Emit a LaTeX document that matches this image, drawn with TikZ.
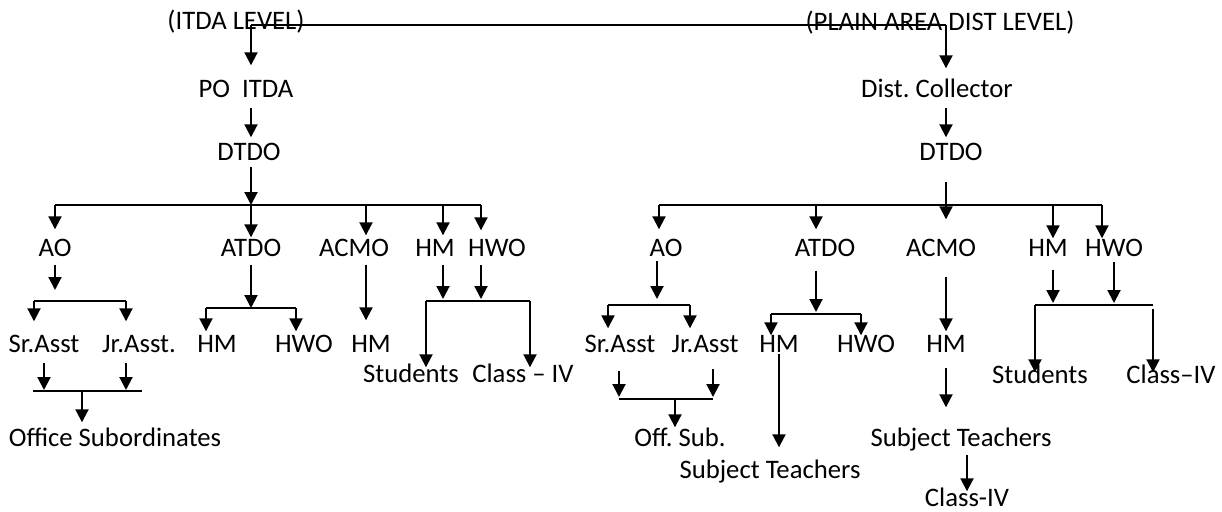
\documentclass[tikz,border=0pt]{standalone}
\usepackage{fontspec}
\setmainfont{Carlito}
\usetikzlibrary{arrows.meta}
\newcommand\orgfont{\fontsize{26.7}{32}\selectfont\frenchspacing}

\begin{document}
\begin{tikzpicture}[x=1pt,y=-1pt,
    lbl/.style={inner sep=0pt,text height=17pt,text depth=0pt,font=\orgfont},
    ln/.style={line width=2pt},
    arr/.style={line width=2pt,-{Triangle[length=13pt,width=13pt]}}]
  \useasboundingbox (0,0) rectangle (1222,511);
  % headings
  \path[every node/.style=lbl]
    (236,21) node (itda) {(ITDA LEVEL)}
    (940,22) node (plain) {(PLAIN AREA DIST LEVEL)}
    (246,89) node (po) {PO~~ITDA}
    (937,89) node (coll) {Dist. Collector}
    (249,152) node (dtdoL) {DTDO}
    (951,152) node (dtdoR) {DTDO};
  % itda side
  \path[every node/.style=lbl]
    (55,248) node (aoL) {AO}
    (251,248) node (atdoL) {ATDO}
    (354,248) node (acmoL) {ACMO}
    (435,248) node (hmL) {HM}
    (497,248) node (hwoL) {HWO}
    (44,344) node (srL) {Sr.Asst}
    (139,344) node (jrL) {Jr.Asst.}
    (217,344) node (hmL1) {HM}
    (304,344) node (hwoL1) {HWO}
    (371,344) node (hmL2) {HM}
    (411,374) node (stuL) {Students}
    (523,374) node (clsL) {Class – IV}
    (115,438) node (offL) {Office Subordinates};
  % plain area side
  \path[every node/.style=lbl]
    (666,248) node (aoR) {AO}
    (825,248) node (atdoR) {ATDO}
    (941,248) node (acmoR) {ACMO}
    (1048,248) node (hmR) {HM}
    (1114,248) node (hwoR) {HWO}
    (620,344) node (srR) {Sr.Asst}
    (705,344) node (jrR) {Jr.Asst}
    (779,344) node (hmR1) {HM}
    (866,344) node (hwoR1) {HWO}
    (946,344) node (hmR2) {HM}
    (1040,375) node (stuR) {Students}
    (1171,375) node (clsR) {Class–IV}
    (680,438) node (offR) {Off. Sub.}
    (961,438) node (subR) {Subject Teachers}
    (770,470) node (subR1) {Subject Teachers}
    (967,498) node (cls4) {Class-IV};

  % top line
  \coordinate (tl) at (251,25);
  \coordinate (tr) at (946,25);
  \draw[ln] (tl) -- (tr);
  \draw[arr,shorten >=15pt] (tl) -- (tl |- po.north);
  \draw[arr,shorten >=12pt] (tr) -- (tr |- coll.north);
  \draw[arr,shorten <=10pt,shorten >=6pt] (tl |- po.south) -- (tl |- dtdoL.north);
  \draw[arr,shorten <=10pt,shorten >=6pt] (tr |- coll.south) -- (tr |- dtdoR.north);

  % left bus
  \coordinate (lb1) at (55,205);
  \coordinate (lb2) at (251,205);
  \coordinate (lb3) at (366,205);
  \coordinate (lb4) at (443,205);
  \coordinate (lb5) at (481,205);
  \draw[ln] (lb1) -- (lb5);
  \draw[arr,shorten <=6pt] (tl |- dtdoL.south) -- (lb2);
  \draw[arr,shorten >=10pt] (lb1) -- (lb1 |- aoL.north);
  \draw[arr,shorten >=2pt] (lb2) -- (lb2 |- atdoL.north);
  \draw[arr,shorten >=4pt] (lb3) -- (lb3 |- acmoL.north);
  \draw[arr,shorten >=4pt] (lb4) -- (lb4 |- hmL.north);
  \draw[arr,shorten >=9pt] (lb5) -- (lb5 |- hwoL.north);

  % left AO
  \coordinate (la1) at (34,301);
  \coordinate (la2) at (126,301);
  \draw[ln] (la1) -- (la2);
  \draw[arr,shorten <=8pt,shorten >=11pt] (aoL.south) -- (aoL.south |- la1);
  \draw[arr,shorten >=14pt] (la1) -- (la1 |- srL.north);
  \draw[arr,shorten >=14pt] (la2) -- (la2 |- jrL.north);
  \coordinate (lc1) at (33,391);
  \coordinate (lc2) at (142,391);
  \coordinate (lc3) at (82,391);
  \draw[ln] (lc1) -- (lc2);
  \draw[arr,shorten <=10pt,shorten >=1pt] (srL.south) -- (srL.south |- lc1);
  \draw[arr,shorten <=10pt,shorten >=1pt] (la2 |- jrL.south) -- (la2 |- lc1);
  \draw[arr,shorten >=7pt] (lc3) -- (lc3 |- offL.north);

  % left ATDO
  \coordinate (lt1) at (206,308);
  \coordinate (lt2) at (296,308);
  \draw[ln] (lt1) -- (lt2);
  \draw[arr,shorten <=8pt] (atdoL.south) -- (atdoL.south |- lt1);
  \draw[arr,shorten >=4pt] (lt1) -- (lt1 |- hmL1.north);
  \draw[arr,shorten >=4pt] (lt2) -- (lt2 |- hwoL1.north);

  % left ACMO
  \draw[arr,shorten <=8pt,shorten >=15pt] (lb3 |- acmoL.south) -- (lb3 |- hmL2.north);

  % left HM HWO
  \coordinate (lh1) at (426,301);
  \coordinate (lh2) at (530,301);
  \draw[ln] (lh1) -- (lh2);
  \draw[arr,shorten <=8pt,shorten >=2pt] (lb4 |- hmL.south) -- (lb4 |- lh1);
  \draw[arr,shorten <=8pt,shorten >=2pt] (lb5 |- hwoL.south) -- (lb5 |- lh1);
  \draw[arr,shorten >=-2pt] (lh1) -- (lh1 |- stuL.north);
  \draw[arr,shorten >=-2pt] (lh2) -- (lh2 |- clsL.north);

  % right bus
  \coordinate (rb1) at (659,205);
  \coordinate (rb2) at (816,205);
  \coordinate (rb4) at (1053,205);
  \coordinate (rb5) at (1102,205);
  \draw[ln] (rb1) -- (rb5);
  \draw[arr,shorten <=21pt,shorten >=20pt] (tr |- dtdoR.south) -- (tr |- acmoR.north);
  \draw[arr,shorten >=10pt] (rb1) -- (rb1 |- aoR.north);
  \draw[arr,shorten >=10pt] (rb2) -- (rb2 |- atdoR.north);
  \draw[arr,shorten >=1pt] (rb4) -- (rb4 |- hmR.north);
  \draw[arr,shorten >=1pt] (rb5) -- (rb5 |- hwoR.north);

  % right AO
  \coordinate (ra1) at (608,305);
  \coordinate (ra2) at (690,305);
  \coordinate (ra3) at (657,305);
  \draw[ln] (ra1) -- (ra2);
  \draw[arr,shorten <=4pt,shorten >=6pt] (ra3 |- aoR.south) -- (ra3);
  \draw[arr,shorten >=7pt] (ra1) -- (ra1 |- srR.north);
  \draw[arr,shorten >=7pt] (ra2) -- (ra2 |- jrR.north);
  \coordinate (rc1) at (619,399);
  \coordinate (rc2) at (713,399);
  \coordinate (rc3) at (675,399);
  \draw[ln] (rc1) -- (rc2);
  \draw[arr,shorten <=18pt,shorten >=2pt] (rc1 |- srR.south) -- (rc1);
  \draw[arr,shorten <=16pt,shorten >=2pt] (rc2 |- jrR.south) -- (rc2);
  \draw[arr,shorten >=2pt] (rc3) -- (rc3 |- offR.north);

  % right ATDO
  \coordinate (rt1) at (771,314);
  \coordinate (rt2) at (861,314);
  \draw[ln] (rt1) -- (rt2);
  \draw[arr,shorten <=14pt,shorten >=2pt] (rb2 |- atdoR.south) -- (rb2 |- rt1);
  \draw[arr] (rt1) -- (rt1 |- hmR1.north);
  \draw[arr] (rt2) -- (rt2 |- hwoR1.north);
  \draw[arr,shorten <=1pt,shorten >=14pt] (hmR1.south) -- (hmR1.south |- subR1.north);

  % right ACMO
  \draw[arr,shorten <=20pt,shorten >=4pt] (acmoR.south -| hmR2) -- (hmR2.north);
  \draw[arr,shorten <=15pt,shorten >=22pt] (hmR2.south) -- (hmR2.south |- subR.north);
  \draw[arr,shorten <=8pt,shorten >=-2pt] (cls4 |- subR.south) -- (cls4.north);

  % right HM HWO
  \coordinate (rh1) at (1035,305);
  \coordinate (rh2) at (1153,305);
  \draw[ln] (rh1) -- (rh2);
  \draw[arr,shorten <=13pt,shorten >=2pt] (rb4 |- hmR.south) -- (rb4 |- rh1);
  \draw[arr,shorten <=5pt,shorten >=2pt] (hwoR.south) -- (hwoR.south |- rh1);
  \draw[arr,shorten >=-6pt] (rh1) -- (rh1 |- stuR.north);
  \draw[arr,shorten <=4pt,shorten >=-6pt] (rh2) -- (rh2 |- clsR.north);
\end{tikzpicture}
\end{document}
